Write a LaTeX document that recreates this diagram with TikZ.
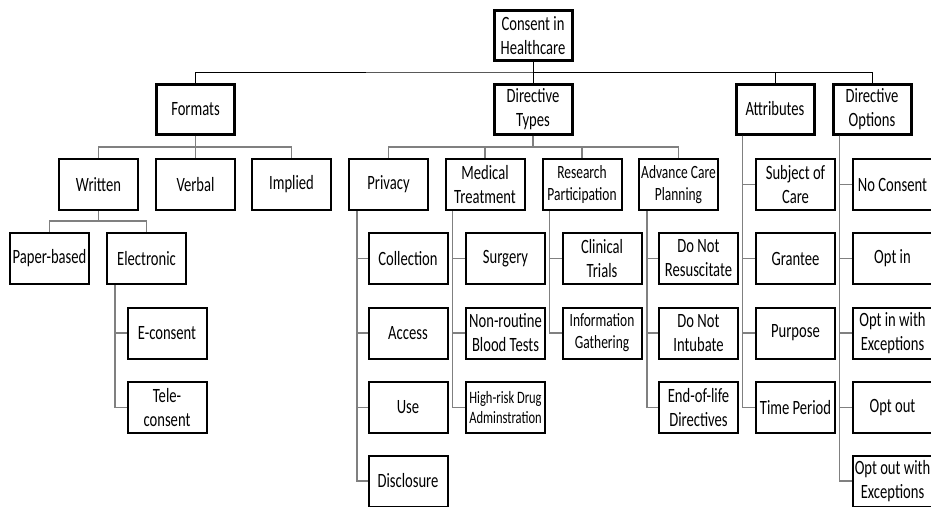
\documentclass[tikz,border=0pt]{standalone}
\usepackage{fontspec}
\setmainfont{Carlito}[FakeStretch=0.72]
\usepackage{tikz}

\tikzset{
  box/.style={draw, line width=2pt, minimum width=79pt, minimum height=51pt,
    inner sep=0pt, align=center, font=\fontsize{20.3}{24}\selectfont},
  topbox/.style={box, line width=3pt, minimum width=78pt, minimum height=50pt},
  smalltext/.style={font=\fontsize{18.7}{22}\selectfont},
  tinytext/.style={font=\fontsize{17.4}{20}\selectfont},
  link/.style={line width=1pt},
  branch/.style={line width=1.5pt, draw=gray},
}

\begin{document}
\begin{tikzpicture}[x=1pt, y=-1pt]
        \useasboundingbox (0, 0) rectangle (931, 506);
        \clip (0, 0) rectangle (931, 506);
        % top level
        \node[topbox] (root) at (533, 35.5) {Consent in\\Healthcare};
        \node[topbox] (formats) at (195.5, 109) {Formats};
        \node[topbox] (dtypes) at (533, 109) {Directive\\Types};
        \node[topbox] (attr) at (775, 109) {Attributes};
        \node[topbox] (dopts) at (872, 109) {Directive\\Options};
        \coordinate (rootbus) at (533, 72);
        \draw[link] (root) -- (dtypes);
        \draw[link] (formats.north) |- (rootbus) -| (dopts.north);
        \draw[link] (attr.north) |- (rootbus);

        % formats
        \node[box] (written) at (98.5, 184.5) {Written};
        \node[box] (verbal) at (195.5, 184.5) {Verbal};
        \node[box] (implied) at (291.5, 184.5) {Implied};
        \node[box] (paper) at (49.5, 258.5) {Paper-based};
        \node[box] (electronic) at (146.5, 258.5) {Electronic};
        \node[box] (econsent) at (167, 333) {E-consent};
        \node[box] (tele) at (167, 407.5) {Tele-\\consent};
        \coordinate (fbus) at (195.5, 147);
        \coordinate (wbus) at (98.5, 221);
        \draw[branch] (formats) -- (verbal);
        \draw[branch] (written.north) |- (fbus) -| (implied.north);
        \draw[branch] (written) -- (wbus);
        \draw[branch] (paper.north) |- (wbus) -| (electronic.north);
        \draw[branch] ([xshift=9pt]electronic.south west) |- (tele.west);
        \draw[branch] ([xshift=9pt]electronic.south west) |- (econsent.west);

        % directive types
        \node[box] (privacy) at (388.5, 184.5) {Privacy};
        \node[box] (medical) at (485, 184.5) {Medical\\Treatment};
        \node[box, smalltext] (research) at (582, 184.5) {Research\\Participation};
        \node[box, smalltext] (advance) at (678.5, 184.5) {Advance Care\\Planning};
        \coordinate (tbus) at (533, 147);
        \draw[branch] (dtypes.south) -- (tbus);
        \draw[branch] (privacy.north) |- (tbus) -| (advance.north);
        \draw[branch] (medical.north) |- (tbus);
        \draw[branch] (research.north) |- (tbus);

        \node[box] (collection) at (408, 258.5) {Collection};
        \node[box] (access) at (408, 333) {Access};
        \node[box] (use) at (408, 407.5) {Use};
        \node[box] (disclosure) at (408, 481) {Disclosure};
        \draw[branch] ([xshift=9pt]privacy.south west) |- (disclosure.west);
        \draw[branch] ([xshift=9pt]privacy.south west) |- (collection.west);
        \draw[branch] ([xshift=9pt]privacy.south west) |- (access.west);
        \draw[branch] ([xshift=9pt]privacy.south west) |- (use.west);

        \node[box] (surgery) at (505.5, 258.5) {Surgery};
        \node[box] (bloodtests) at (505.5, 333) {Non-routine\\Blood Tests};
        \node[box, tinytext] (drugadmin) at (505.5, 407.5) {High-risk Drug\\Adminstration};
        \draw[branch] ([xshift=8pt]medical.south west) |- (drugadmin.west);
        \draw[branch] ([xshift=8pt]medical.south west) |- (surgery.west);
        \draw[branch] ([xshift=8pt]medical.south west) |- (bloodtests.west);

        \node[box] (clinical) at (602, 258.5) {Clinical\\Trials};
        \node[box, smalltext] (infogather) at (602, 333) {Information\\Gathering};
        \draw[branch] ([xshift=8pt]research.south west) |- (infogather.west);
        \draw[branch] ([xshift=8pt]research.south west) |- (clinical.west);

        \node[box] (dnr) at (698.5, 258.5) {Do Not\\Resuscitate};
        \node[box] (dni) at (698.5, 333) {Do Not\\Intubate};
        \node[box] (endoflife) at (698.5, 407.5) {End-of-life\\Directives};
        \draw[branch] ([xshift=9pt]advance.south west) |- (endoflife.west);
        \draw[branch] ([xshift=9pt]advance.south west) |- (dnr.west);
        \draw[branch] ([xshift=9pt]advance.south west) |- (dni.west);

        % attributes
        \node[box] (subject) at (795.5, 184.5) {Subject of\\Care};
        \node[box] (grantee) at (795.5, 258.5) {Grantee};
        \node[box] (purpose) at (795.5, 333) {Purpose};
        \node[box] (period) at (795.5, 407.5) {Time Period};
        \draw[branch] ([xshift=8pt]attr.south west) |- (period.west);
        \draw[branch] ([xshift=8pt]attr.south west) |- (subject.west);
        \draw[branch] ([xshift=8pt]attr.south west) |- (grantee.west);
        \draw[branch] ([xshift=8pt]attr.south west) |- (purpose.west);

        % directive options
        \node[box] (noconsent) at (892.5, 184.5) {No Consent};
        \node[box] (optin) at (892.5, 258.5) {Opt in};
        \node[box] (optinexc) at (892.5, 333) {Opt in with\\Exceptions};
        \node[box] (optout) at (892.5, 407.5) {Opt out};
        \node[box] (optoutexc) at (892.5, 481) {Opt out with\\Exceptions};
        \draw[branch] ([xshift=8pt]dopts.south west) |- (optoutexc.west);
        \draw[branch] ([xshift=8pt]dopts.south west) |- (noconsent.west);
        \draw[branch] ([xshift=8pt]dopts.south west) |- (optin.west);
        \draw[branch] ([xshift=8pt]dopts.south west) |- (optinexc.west);
        \draw[branch] ([xshift=8pt]dopts.south west) |- (optout.west);
      \end{tikzpicture}
\end{document}
